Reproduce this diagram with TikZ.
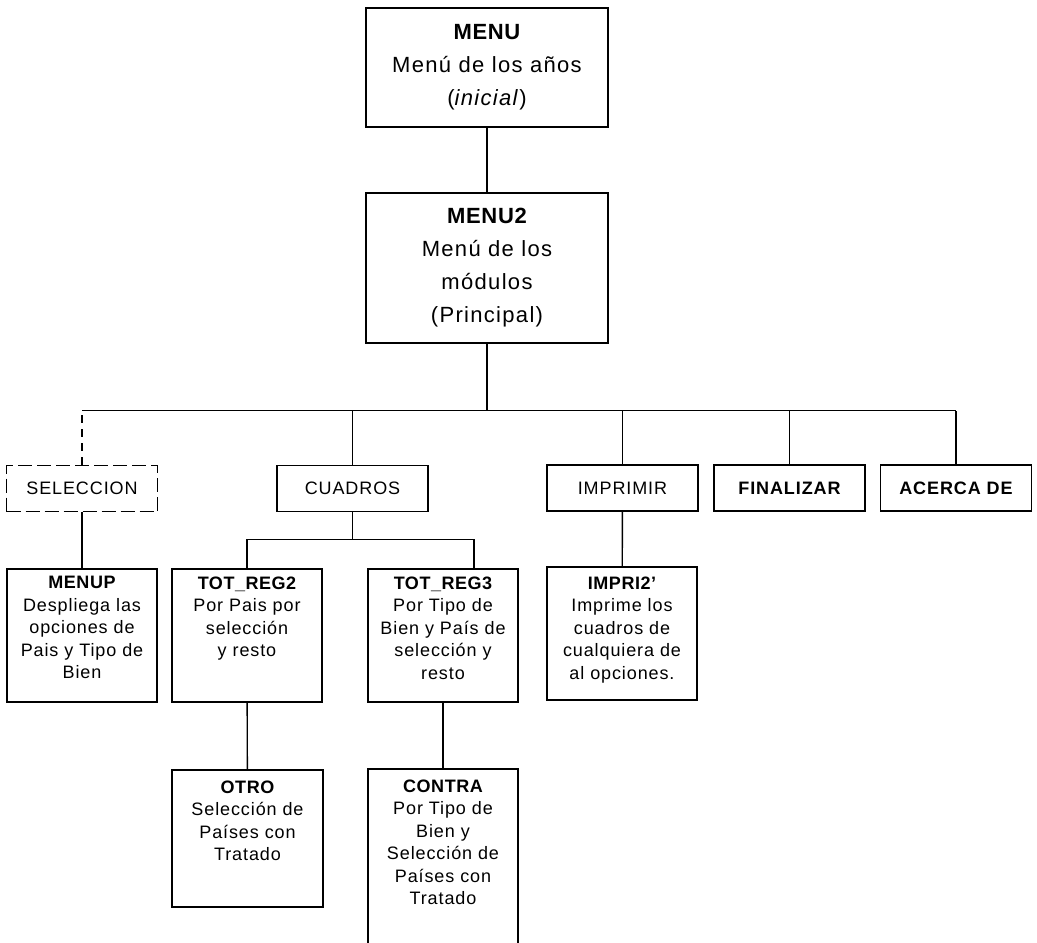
\documentclass[tikz,border=0pt]{standalone}
\usepackage{fontspec}
\setmainfont{Liberation Sans}
\newfontfamily\wideA{Liberation Sans}[LetterSpace=6]
\newfontfamily\wideB{Liberation Sans}[LetterSpace=5]
\newfontfamily\wideC{Liberation Sans}[LetterSpace=5]
\newfontfamily\ttlfont{Liberation Sans}[LetterSpace=3]
\begin{document}
\begin{tikzpicture}[x=1pt,y=-1pt,
  bx/.style={draw,line width=1.4pt,inner sep=0pt},
  lvone/.style={bx,align=center,font=\wideA\fontsize{22}{33}\selectfont},
  lvtwo/.style={bx,align=center,minimum width=151pt,minimum height=46pt,font=\wideB\fontsize{18}{22}\selectfont},
  lvthree/.style={anchor=north,align=center,inner sep=0pt,font=\wideC\fontsize{18}{22.5}\selectfont},
  conn/.style={line width=1.4pt}]
\path[use as bounding box] (0,0) rectangle (1037,943);

% level 1
\node[lvone,minimum width=242pt,minimum height=119pt] (menu) at (487,67.5)
  {{\ttlfont\bfseries MENU}\\Menú de los años\\(\textit{inicial})};
\node[lvone,minimum width=242pt,minimum height=150pt] (menu2) at (487,268)
  {{\ttlfont\bfseries MENU2}\\Menú de los\\módulos\\(Principal)};

% level 2
\node[lvtwo,dash pattern=on 14pt off 5pt] (sel) at (82,488.5) {SELECCION};
\node[lvtwo] (cuad) at (352.5,488.5) {CUADROS};
\node[lvtwo] (impr) at (622.5,488) {IMPRIMIR};
\node[lvtwo] (fin) at (789.5,488) {\bfseries FINALIZAR};
\node[lvtwo] (acer) at (956,488) {\bfseries ACERCA DE};

% level 3 boxes
\node[bx,minimum width=150pt,minimum height=133pt] (menup) at (82,635.5) {};
\node[bx,minimum width=150pt,minimum height=133pt] (tr2) at (247,635.5) {};
\node[bx,minimum width=150pt,minimum height=133pt] (tr3) at (443,635.5) {};
\node[bx,minimum width=150pt,minimum height=133pt] (impri2) at (622,633.5) {};
\node[bx,minimum width=151pt,minimum height=137pt] (otro) at (247.5,838.5) {};
\node[bx,minimum width=150pt,minimum height=179pt] (contra) at (443,858.5) {};

% level 3 texts
\node[lvthree] (menupt) at ([yshift=-8pt]menup.north)
  {{\ttlfont\bfseries MENUP}\\Despliega las\\opciones de\\Pais y Tipo de\\Bien};
\node[lvthree] (tr2t) at ([yshift=-8pt]tr2.north)
  {{\ttlfont\bfseries TOT\_REG2}\\Por Pais por\\selección\\y resto};
\node[lvthree] (tr3t) at ([yshift=-8pt]tr3.north)
  {{\ttlfont\bfseries TOT\_REG3}\\Por Tipo de\\Bien y País de\\selección y\\resto};
\node[lvthree] (impri2t) at ([yshift=-10pt]impri2.north)
  {{\ttlfont\bfseries IMPRI2’}\\Imprime los\\cuadros de\\cualquiera de\\al opciones.};
\node[lvthree] (otrot) at ([yshift=-11pt]otro.north)
  {{\ttlfont\bfseries OTRO}\\Selección de\\Países con\\Tratado};
\node[lvthree] (contrat) at ([yshift=-11pt]contra.north)
  {{\ttlfont\bfseries CONTRA}\\Por Tipo de\\Bien y\\Selección de\\Países con\\Tratado};

% connectors
\draw[conn] (menu) -- (menu2);
\draw[conn] (menu2.south) -- ++(0,67) coordinate (bus);
\draw[conn] (sel.north |- bus) -- (acer.north |- bus);
\draw[conn,dash pattern=on 8pt off 6pt] (sel.north) -- (sel.north |- bus);
\draw[conn] (cuad.north) -- (cuad.north |- bus);
\draw[conn] (impr.north) -- (impr.north |- bus);
\draw[conn] (fin.north) -- (fin.north |- bus);
\draw[conn] (acer.north) -- (acer.north |- bus);

\draw[conn] (cuad.south) -- ++(0,27) coordinate (cbus);
\coordinate (t3in) at ([xshift=31pt]tr3.north);
\draw[conn] (tr2.north) |- (cbus) -| (t3in);

\draw[conn] (sel) -- (menup);
\draw[conn] (impr) -- (impri2);
\draw[conn] (tr2) -- (otro);
\draw[conn] (tr3) -- (contra);
\end{tikzpicture}
\end{document}
